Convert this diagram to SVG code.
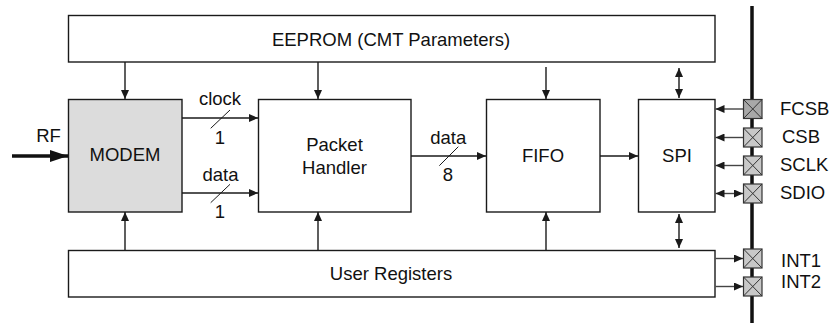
<svg xmlns="http://www.w3.org/2000/svg" width="832" height="323" viewBox="0 0 832 323">
<style>
.box{fill:#fff;stroke:#1a1a1a;stroke-width:1.4}
.modem{fill:#dcdcdc;stroke:#1a1a1a;stroke-width:1.4}
.t{font-family:"Liberation Sans",Arial,sans-serif;font-size:18.5px;fill:#111;text-anchor:middle}
.pl{font-family:"Liberation Sans",Arial,sans-serif;font-size:18.5px;fill:#111}
.c{stroke:#1a1a1a;stroke-width:1.4;fill:none}
.cg{stroke:#444;stroke-width:1.4;fill:none}
.sl{stroke:#1a1a1a;stroke-width:1;fill:none}
.pad{fill:#c8c8c8;stroke:#333;stroke-width:1.2}
.padd{fill:#a8a8a8;stroke:#333;stroke-width:1.2}
.x{stroke:#333;stroke-width:1;fill:none}
</style>
<defs>
<marker id="ah" markerUnits="userSpaceOnUse" markerWidth="10" markerHeight="8" refX="9" refY="4" orient="auto-start-reverse">
<path d="M0,0 L9,4 L0,8 Z" fill="#1a1a1a"/>
</marker>
<marker id="ahb" markerUnits="userSpaceOnUse" markerWidth="18" markerHeight="12" refX="18" refY="6" orient="auto">
<path d="M0,0 L18,6 L0,12 Z" fill="#111"/>
</marker>
</defs>

<g id="bus">
<line x1="752" y1="6" x2="752" y2="323" stroke="#111" stroke-width="3.5"/>
</g>

<g id="eeprom">
<rect class="box" x="68.5" y="15.5" width="646.5" height="46.5"/>
<text class="t" x="391" y="46">EEPROM (CMT Parameters)</text>
</g>
<g id="modem">
<rect class="modem" x="68.5" y="99.5" width="113.5" height="112.5"/>
<text class="t" x="125" y="161">MODEM</text>
</g>
<g id="packet-handler">
<rect class="box" x="258.5" y="99.5" width="152.5" height="112.5"/>
<text class="t" x="334.5" y="150.5">Packet</text>
<text class="t" x="334.5" y="173.5">Handler</text>
</g>
<g id="fifo">
<rect class="box" x="486.5" y="99.5" width="113.5" height="112.5"/>
<text class="t" x="543" y="161.5">FIFO</text>
</g>
<g id="spi">
<rect class="box" x="638.5" y="99.5" width="76.5" height="112.5"/>
<text class="t" x="677" y="161.5">SPI</text>
</g>
<g id="user-registers">
<rect class="box" x="68.5" y="250.5" width="646.5" height="46.5"/>
<text class="t" x="391" y="280">User Registers</text>
</g>

<g id="pads">
<g id="pad-fcsb"><rect class="padd" x="743.5" y="99.5" width="18.5" height="19"/><path class="x" d="M743.5,99.5 L762,118.5 M762,99.5 L743.5,118.5"/><text class="pl" x="780" y="115">FCSB</text></g>
<g id="pad-csb"><rect class="pad" x="743.5" y="128" width="18.5" height="19"/><path class="x" d="M743.5,128 L762,147 M762,128 L743.5,147"/><text class="pl" x="782" y="142.5">CSB</text></g>
<g id="pad-sclk"><rect class="pad" x="743.5" y="156" width="18.5" height="19"/><path class="x" d="M743.5,156 L762,175 M762,156 L743.5,175"/><text class="pl" x="780" y="170.5">SCLK</text></g>
<g id="pad-sdio"><rect class="pad" x="743.5" y="184" width="18.5" height="19"/><path class="x" d="M743.5,184 L762,203 M762,184 L743.5,203"/><text class="pl" x="780" y="198.5">SDIO</text></g>
<g id="pad-int1"><rect class="pad" x="743.5" y="249" width="18.5" height="19"/><path class="x" d="M743.5,249 L762,268 M762,249 L743.5,268"/><text class="pl" x="781" y="267">INT1</text></g>
<g id="pad-int2"><rect class="pad" x="743.5" y="277" width="18.5" height="19"/><path class="x" d="M743.5,277 L762,296 M762,277 L743.5,296"/><text class="pl" x="781" y="287.5">INT2</text></g>
</g>

<g id="connectors">
<!-- RF input -->
<line x1="12" y1="156" x2="68" y2="156" stroke="#111" stroke-width="3.5" marker-end="url(#ahb)"/>
<text class="t" x="48.5" y="142">RF</text>
<!-- EEPROM down arrows -->
<line class="c" x1="125" y1="62" x2="125" y2="99" marker-end="url(#ah)"/>
<line class="c" x1="318" y1="62" x2="318" y2="99" marker-end="url(#ah)"/>
<line class="c" x1="546" y1="67" x2="546" y2="99" marker-end="url(#ah)"/>
<line class="c" x1="679" y1="68" x2="679" y2="98" marker-start="url(#ah)" marker-end="url(#ah)"/>
<!-- User registers up arrows -->
<line class="c" x1="125" y1="250" x2="125" y2="212" marker-end="url(#ah)"/>
<line class="c" x1="318" y1="250" x2="318" y2="212" marker-end="url(#ah)"/>
<line class="c" x1="546" y1="250" x2="546" y2="212" marker-end="url(#ah)"/>
<line class="c" x1="679" y1="214" x2="679" y2="248" marker-start="url(#ah)" marker-end="url(#ah)"/>
<!-- MODEM to Packet Handler -->
<line class="c" x1="182" y1="118" x2="258" y2="118" marker-end="url(#ah)"/>
<line class="sl" x1="210.7" y1="128.3" x2="230" y2="110"/>
<text class="t" x="220" y="105">clock</text>
<text class="t" x="220" y="143.5">1</text>
<line class="c" x1="182" y1="193" x2="258" y2="193" marker-end="url(#ah)"/>
<line class="sl" x1="210.7" y1="202.7" x2="230" y2="184.3"/>
<text class="t" x="220.5" y="181">data</text>
<text class="t" x="220" y="218">1</text>
<!-- Packet Handler to FIFO -->
<line class="c" x1="411" y1="156" x2="486" y2="156" marker-end="url(#ah)"/>
<line class="sl" x1="439.3" y1="165.7" x2="458.3" y2="146.7"/>
<text class="t" x="448.3" y="143.5">data</text>
<text class="t" x="448" y="181">8</text>
<!-- FIFO to SPI -->
<line class="c" x1="600" y1="156" x2="638" y2="156" marker-end="url(#ah)"/>
<!-- pads to SPI -->
<line class="cg" x1="743" y1="109" x2="715.5" y2="109" marker-end="url(#ah)"/>
<line class="cg" x1="743" y1="137.5" x2="715.5" y2="137.5" marker-end="url(#ah)"/>
<line class="cg" x1="743" y1="165.5" x2="715.5" y2="165.5" marker-end="url(#ah)"/>
<line class="cg" x1="715.5" y1="193.5" x2="743" y2="193.5" marker-start="url(#ah)" marker-end="url(#ah)"/>
<!-- user registers to INT pads -->
<line class="cg" x1="715.5" y1="258.5" x2="743" y2="258.5" marker-end="url(#ah)"/>
<line class="cg" x1="715.5" y1="286.5" x2="743" y2="286.5" marker-end="url(#ah)"/>
</g>
</svg>
